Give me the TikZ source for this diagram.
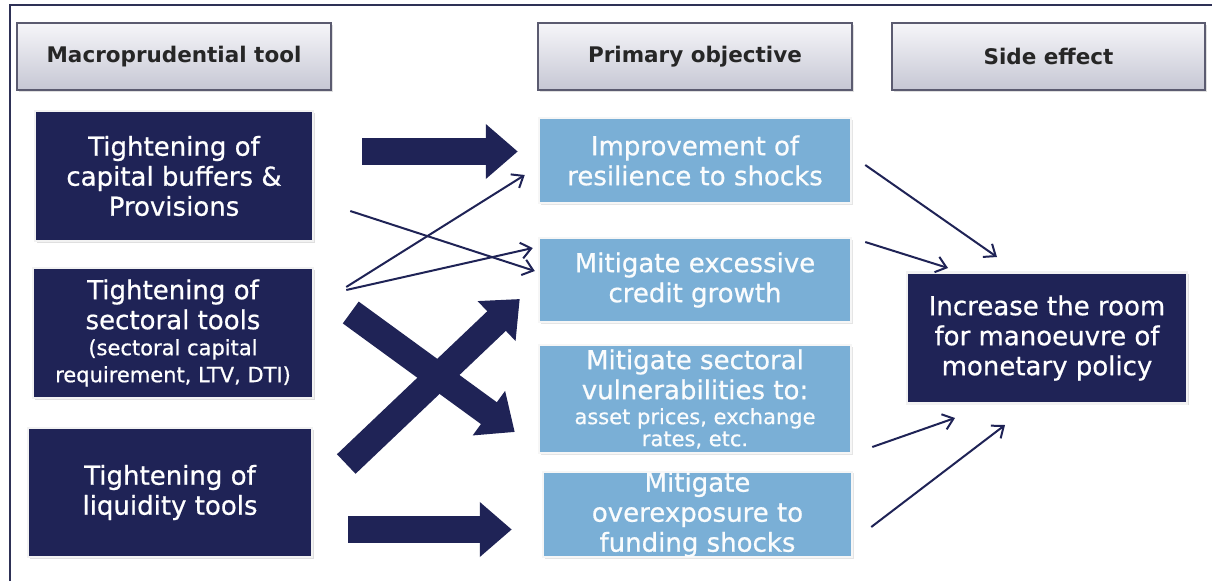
\documentclass[tikz,border=0pt]{standalone}
\usepackage{fontspec}
\setmainfont{DejaVu Sans}
\newfontfamily\boxfont{DejaVu Sans}[FakeBold=0.7]
\usetikzlibrary{arrows.meta,shadows,calc}
\definecolor{navy}{HTML}{1F2356}
\definecolor{lblue}{HTML}{7AAFD6}
\definecolor{hdrtop}{HTML}{F6F6F9}
\definecolor{hdrbot}{HTML}{C6C7D4}
\definecolor{hdrborder}{HTML}{5B5B70}
\definecolor{framec}{HTML}{2E3156}
\begin{document}
\begin{tikzpicture}[x=1pt,y=-1pt,
  hdr/.style={draw=hdrborder, line width=1.3pt, top color=hdrtop, bottom color=hdrbot,
    minimum height=67pt, inner sep=0pt, text=black!85,
    font=\fontsize{21.5}{24}\selectfont\bfseries,
    drop shadow={shadow xshift=1.5pt, shadow yshift=-1.5pt, opacity=0.25}},
  tool/.style={fill=navy, draw=white!90!gray, line width=2.5pt, text=white, align=center,
    inner sep=0pt, font=\boxfont\fontsize{26}{30}\selectfont,
    drop shadow={shadow xshift=1.5pt, shadow yshift=-1.5pt, opacity=0.25}},
  obj/.style={fill=lblue, draw=white!93!gray, line width=2.5pt, text=white!96!lblue, align=center,
    inner sep=0pt, font=\boxfont\fontsize{26}{30}\selectfont,
    drop shadow={shadow xshift=1.5pt, shadow yshift=-1.5pt, opacity=0.2}},
  blk/.style={draw=navy, line width=27pt, -{Triangle[length=32pt,width=53pt]}},
  thin/.style={draw=navy, line width=2pt, -{Straight Barb[length=10pt,width=16pt]}}
]
\useasboundingbox (0,0) rectangle (1212,581);
\fill[white] (0,0) rectangle (1212,581);
% frame (top and left edges)
\draw[framec, line width=2pt] (10,581) -- (10,5) -- (1212,5);

% headers
\node[hdr, minimum width=314pt] (H1) at (174,56.5) {Macroprudential tool};
\node[hdr, minimum width=314pt] (H2) at (695,56.5) {Primary objective};
\node[hdr, minimum width=313pt] (H3) at (1048.5,56.5) {Side effect};

% tools
\node[tool, minimum width=278pt, minimum height=130pt] (T1) at (174,176)
  {Tightening of\\capital buffers \&\\Provisions};
\node[tool, minimum width=280pt, minimum height=130pt] (T2) at (173,333)
  {Tightening of\\sectoral tools\\[-4pt]{\fontsize{21}{27}\selectfont (sectoral capital}\\[-3pt]{\fontsize{21}{27}\selectfont requirement, LTV, DTI)}};
\node[tool, minimum width=284pt, minimum height=129pt] (T3) at (170,492.5)
  {Tightening of\\liquidity tools};

% objectives
\node[obj, minimum width=312pt, minimum height=85pt] (O1) at (695,160.5)
  {Improvement of\\resilience to shocks};
\node[obj, minimum width=312pt, minimum height=84pt] (O2) at (695,280)
  {Mitigate excessive\\credit growth};
\node[obj, minimum width=312pt, minimum height=108pt] (O3) at (695,399)
  {Mitigate sectoral\\vulnerabilities to:\\[-5pt]{\fontsize{21}{23}\selectfont asset prices, exchange}\\[-8pt]{\fontsize{21}{23}\selectfont rates, etc.}};
\node[obj, minimum width=309pt, minimum height=85pt] (O4) at (697.5,514.5)
  {Mitigate\\overexposure to\\funding shocks};

% side effect
\node[tool, minimum width=280pt, minimum height=131pt] (S) at (1047,338)
  {Increase the room\\for manoeuvre of\\monetary policy};

% block arrows
\draw[blk] ($(T1.east)+(48,-24.5)$) -- ($(O1.west)+(-20,-9)$);
\draw[blk] ($(T3.east)+(35,37)$) -- ($(O4.west)+(-30,15)$);
\draw[blk] ($(T2.east)+(36.5,-20.5)$) -- ($(O3.west)+(-23,33)$);
\draw[blk] ($(T3.east)+(33,-28.5)$) -- ($(O2.west)+(-18,19)$);

% thin arrows left
\draw[thin] ($(T1.east)+(36,35)$) -- ($(O2.west)+(-3,-9)$);
\draw[thin] ($(T2.east)+(32,-46)$) -- ($(O1.west)+(-13,14.5)$);
\draw[thin] ($(T2.east)+(32,-43)$) -- ($(O2.west)+(-5,-32)$);

% thin arrows right
\draw[thin] ($(O1.east)+(13,4.5)$) -- ($(S)+(-50,-81)$);
\draw[thin] ($(O2.east)+(13,-38)$) -- ($(S)+(-99,-70)$);
\draw[thin] ($(O3.east)+(20,48)$) -- ($(S)+(-92,80)$);
\draw[thin] ($(O4.east)+(18,12.5)$) -- ($(S)+(-42,87)$);
\end{tikzpicture}
\end{document}
